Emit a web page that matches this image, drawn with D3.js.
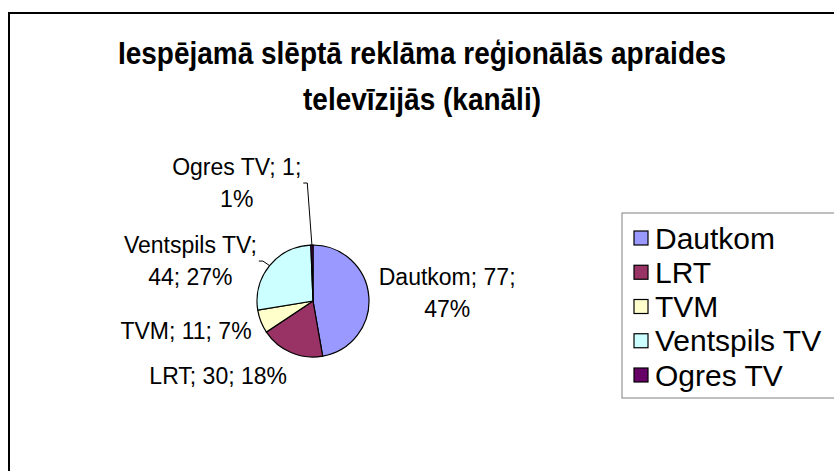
<!DOCTYPE html>
<html>
<head>
<meta charset="utf-8">
<script src="https://cdn.jsdelivr.net/npm/d3@7"></script>
<style>
  body { margin: 0; background: #fff; }
  text { font-family: "Liberation Sans", Arial, sans-serif; fill: #000; }
</style>
</head>
<body>
<svg id="chart"></svg>
<script>
var width = 834, height = 471

// data
var titleLines = ["Iespējamā slēptā reklāma reģionālās apraides", "televīzijās (kanāli)"]
var channels = ["Dautkom", "LRT", "TVM", "Ventspils TV", "Ogres TV"]
var counts = [77, 30, 11, 44, 1]
var percents = [47, 18, 7, 27, 1]
var colors = ["#9999FF", "#993366", "#FFFFCC", "#CCFFFF", "#660066"]

// label nudges (layout only), leader lines where a label is moved
var labelNudge = [[0, 0], [0, 0], [0, 0], [-5, 22], [-75, -20]]
var hasLeader = [false, false, false, true, true]

var svg = d3.select("#chart")
    .attr("width", width)
    .attr("height", height)

svg.append("rect")
    .attr("width", width).attr("height", height)
    .attr("fill", "#fff")

// chart frame, runs off the right and bottom edge
svg.append("rect")
    .attr("x", 9).attr("y", 13)
    .attr("width", 1000).attr("height", 1000)
    .attr("fill", "none")
    .attr("stroke", "#000")
    .attr("stroke-width", 2)

// title, a little taller than wide like the original
svg.append("g")
    .attr("transform", "translate(422,0) scale(1,1.15)")
    .append("text")
    .attr("text-anchor", "middle")
    .style("font-size", "28px")
    .style("font-weight", "bold")
    .selectAll("tspan")
    .data(titleLines)
    .enter()
    .append("tspan")
        .attr("x", 0)
        .attr("y", (d, i) => (64 + i * 46) / 1.15)
        .text(d => d)

var cx = 313, cy = 301, r = 56

var pie = d3.pie().sort(null).value(d => d)
var arcs = pie(counts)
var arc = d3.arc().innerRadius(0).outerRadius(r)

var g = svg.append("g").attr("transform", "translate(" + cx + "," + cy + ")")

g.selectAll("path.slice")
    .data(arcs)
    .enter()
    .append("path")
        .attr("class", "slice")
        .attr("d", arc)
        .attr("fill", (d, i) => colors[i])
        .attr("stroke", "#000")
        .attr("stroke-width", 1.2)

// labels
var fontSize = 23, lineH = 32, maxW = 160
var measure = svg.append("text").style("font-size", fontSize + "px").attr("opacity", 0)
function textW(s) {
    measure.text(s)
    return measure.node().getComputedTextLength()
}
function wrap(s) {
    var words = s.split(" "), lines = [], cur = ""
    words.forEach(w => {
        var test = cur ? cur + " " + w : w
        if (cur && textW(test) > maxW) { lines.push(cur); cur = w }
        else cur = test
    })
    lines.push(cur)
    return lines
}

arcs.forEach((d, i) => {
    var lines = wrap(channels[i] + "; " + counts[i] + "; " + percents[i] + "%")
    var w = d3.max(lines, textW)
    var h = lines.length * lineH
    var a = (d.startAngle + d.endAngle) / 2
    var sa = Math.sin(a), ca = -Math.cos(a)
    var px = (r + 10) * sa, py = (r + 10) * ca
    var bx = sa > 0.1 ? px + w / 2 : (sa < -0.1 ? px - w / 2 : px)
    var by = py + (h / 2) * ca
    bx += labelNudge[i][0]
    by += labelNudge[i][1]

    g.append("text")
        .attr("text-anchor", "middle")
        .style("font-size", fontSize + "px")
        .selectAll("tspan")
        .data(lines)
        .enter()
        .append("tspan")
            .attr("x", bx)
            .attr("y", (l, j) => by - h / 2 + lineH / 2 + j * lineH)
            .attr("dy", "0.35em")
            .text(l => l)

    if (hasLeader[i]) {
        var ex = bx + w / 2 + 2
        var ax = r * sa, ay = r * ca
        g.append("path")
            .attr("d", "M" + ex + "," + by + "H" + (ex + 4) + "L" + ax + "," + ay)
            .attr("fill", "none")
            .attr("stroke", "#000")
            .attr("stroke-width", 1)
    }
})
measure.remove()

// legend
var legend = svg.append("g")
legend.append("rect")
    .attr("x", 622).attr("y", 213)
    .attr("width", 400).attr("height", 185)
    .attr("fill", "#fff")
    .attr("stroke", "#808080")
    .attr("stroke-width", 1)

var ly = d3.scalePoint().domain(channels).range([238, 375])

var items = legend.selectAll("g.item")
    .data(channels)
    .enter()
    .append("g")
        .attr("class", "item")
        .attr("transform", d => "translate(634," + ly(d) + ")")
items.append("rect")
    .attr("x", 0).attr("y", -7)
    .attr("width", 14).attr("height", 14)
    .attr("fill", (d, i) => colors[i])
    .attr("stroke", "#000")
    .attr("stroke-width", 1.2)
items.append("text")
    .attr("x", 21)
    .attr("dy", "0.35em")
    .style("font-size", "30px")
    .text(d => d)
</script>
</body>
</html>
